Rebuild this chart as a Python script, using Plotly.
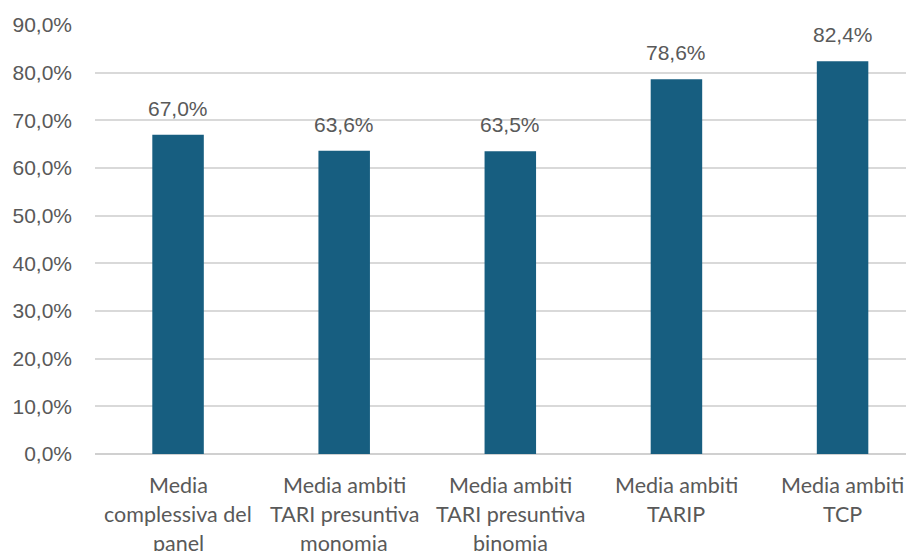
import plotly.graph_objects as go

categories = [
    "Media<br>complessiva del<br>panel",
    "Media ambiti<br>TARI presuntiva<br>monomia",
    "Media ambiti<br>TARI presuntiva<br>binomia",
    "Media ambiti<br>TARIP",
    "Media ambiti<br>TCP",
]
values = [67.0, 63.6, 63.5, 78.6, 82.4]
y_ticks = [0, 10, 20, 30, 40, 50, 60, 70, 80, 90]

BAR = "#175e80"
GREY = "#595959"

x_idx = list(range(len(categories)))

fig = go.Figure()
fig.add_trace(go.Bar(
    x=x_idx, y=values, width=0.31,
    marker=dict(color=BAR, line=dict(width=0)),
    hoverinfo="skip",
))

annotations = []
for i, v in zip(x_idx, values):
    annotations.append(dict(
        x=i, y=v, xref="x", yref="y", text=f"{v:.1f}%".replace(".", ","),
        showarrow=False, yanchor="bottom", yshift=13,
        font=dict(family="Liberation Sans, Arial, sans-serif", size=21, color=GREY),
    ))
for i, lab in zip(x_idx, categories):
    for k, line in enumerate(lab.split("<br>")):
        annotations.append(dict(
            x=i, y=0, xref="x", yref="y", text=line, showarrow=False,
            yanchor="middle", yshift=-31 - 29 * k,
            font=dict(family="Lato, Noto Sans, sans-serif", size=21.5, color=GREY),
        ))

fig.update_layout(
    width=906, height=543,
    margin=dict(l=87, r=0, t=17, b=97),
    paper_bgcolor="white", plot_bgcolor="white",
    separators=",.",
    showlegend=False,
    annotations=annotations,
    xaxis=dict(
        range=[-0.5, 4.43], showticklabels=False, showgrid=False,
        zeroline=False, showline=False, ticks="", fixedrange=True,
    ),
    yaxis=dict(
        range=[0, 90], tickvals=y_ticks,
        ticktext=[f"{t:.1f}%".replace(".", ",") for t in y_ticks],
        showgrid=True, gridcolor="#d9d9d9", gridwidth=2,
        zeroline=True, zerolinecolor="#d0d0d0", zerolinewidth=2,
        showline=False, ticks="", ticklabelstandoff=22,
        tickfont=dict(family="Liberation Sans, Arial, sans-serif", size=21, color=GREY),
    ),
)

fig.write_html("out.html")
